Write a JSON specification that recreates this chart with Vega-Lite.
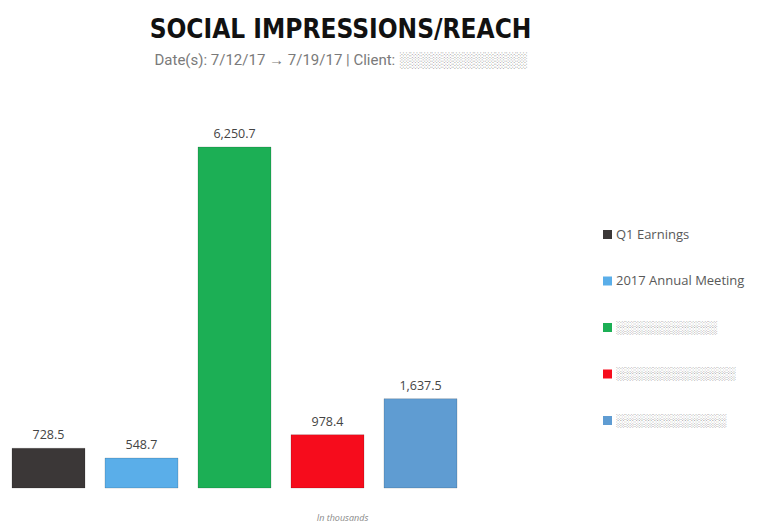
{
  "$schema": "https://vega.github.io/schema/vega-lite/v6.json",
  "autosize": {"type": "pad"},
  "width": 469,
  "height": 387,
  "padding": {"left": 0, "top": 17, "right": 0, "bottom": 0},
  "background": "white",
  "config": {"view": {"stroke": null}},
  "title": {
    "text": "SOCIAL IMPRESSIONS/REACH",
    "subtitle": "Date(s): 7/12/17 → 7/19/17 | Client: ░░░░░░░░░░░░",
    "anchor": "middle",
    "frame": "group",
    "dx": 106,
    "offset": 33,
    "font": "DejaVu Sans Condensed, sans-serif",
    "fontSize": 26,
    "fontWeight": "bold",
    "color": "#111111",
    "subtitleFont": "Roboto",
    "subtitleFontSize": 15,
    "subtitleColor": "#7a7a7a",
    "subtitlePadding": 10
  },
  "data": {
    "values": [
      {"event": "Q1 Earnings", "reach": 728.5},
      {"event": "2017 Annual Meeting", "reach": 548.7},
      {"event": "░░░░░░░░░░░", "reach": 6250.7},
      {"event": "░░░░░░░░░░░░░", "reach": 978.4},
      {"event": "░░░░░░░░░░░░", "reach": 1637.5}
    ]
  },
  "encoding": {
    "x": {
      "field": "event",
      "type": "nominal",
      "sort": null,
      "scale": {"paddingInner": 0.215, "paddingOuter": 0.129},
      "axis": {
        "title": "In thousands",
        "labels": false,
        "ticks": false,
        "domain": false,
        "grid": false,
        "titleFont": "Open Sans",
        "titleFontSize": 9,
        "titleFontStyle": "italic",
        "titleFontWeight": "normal",
        "titleColor": "#888888",
        "titleX": 342,
        "titlePadding": 25
      }
    },
    "y": {
      "field": "reach",
      "type": "quantitative",
      "scale": {"domain": [0, 7094], "nice": false, "zero": true},
      "axis": null
    }
  },
  "layer": [
    {
      "mark": {"type": "bar", "stroke": "#000000", "strokeOpacity": 0.15, "strokeWidth": 1},
      "encoding": {
        "color": {
          "field": "event",
          "type": "nominal",
          "sort": null,
          "scale": {"range": ["#3b3737", "#5aaee9", "#1caf55", "#f60c1c", "#5f9cd2"]},
          "legend": {
            "title": null,
            "orient": "none",
            "legendX": 601,
            "legendY": 127,
            "symbolType": "square",
            "symbolSize": 81,
            "symbolStrokeWidth": 0,
            "labelOffset": 2,
            "labelFont": "Open Sans",
            "labelFontSize": 13,
            "labelColor": "#595959",
            "rowPadding": 32.5,
            "labelLimit": 200
          }
        }
      }
    },
    {
      "mark": {"type": "text", "baseline": "alphabetic", "dy": -9, "font": "Open Sans", "fontSize": 12.5, "color": "#444444"},
      "encoding": {
        "text": {"field": "reach", "type": "quantitative", "format": ",.1f"}
      }
    }
  ]
}
